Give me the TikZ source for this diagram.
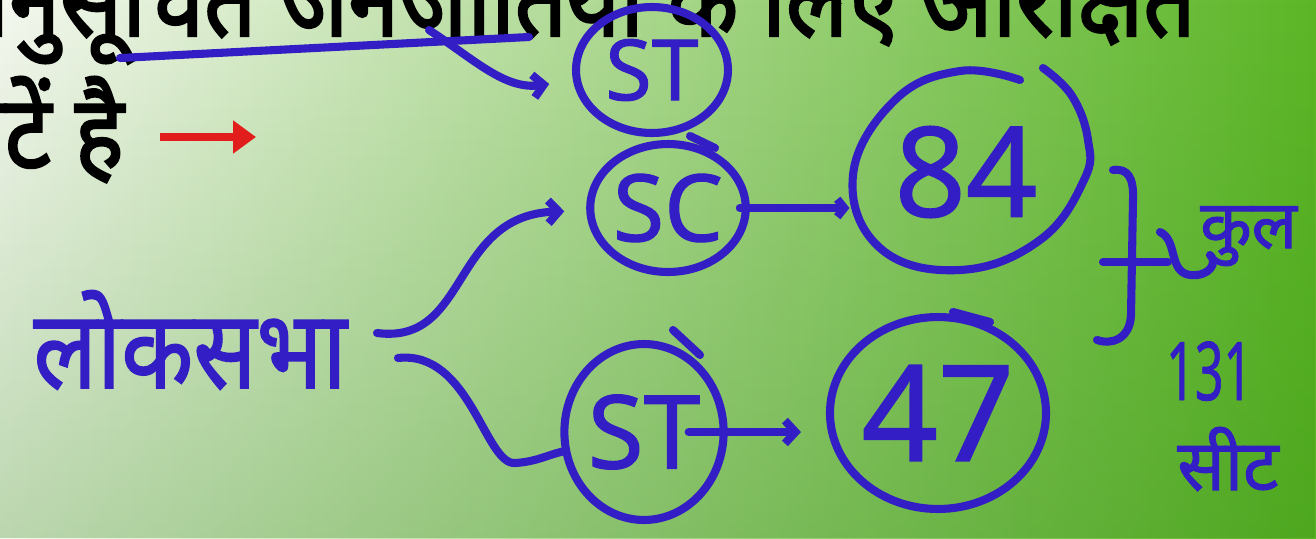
\documentclass[tikz,border=0pt]{standalone}
\usepackage{fontspec}
\setmainfont{Noto Sans}
\newfontfamily\hindi[Script=Devanagari, FakeBold=2.4]{Noto Sans}
\newfontfamily\hindipen[Script=Devanagari, FakeBold=1.6]{Noto Sans}
\newfontfamily\penfont[FakeBold=1.2]{Noto Sans}
\usetikzlibrary{arrows.meta, shapes.geometric, positioning, fadings}

\definecolor{penblue}{RGB}{50,30,196}
\definecolor{slidered}{RGB}{226,30,28}
\definecolor{bgleft}{RGB}{245,248,240}
\definecolor{bgmid}{RGB}{198,228,158}
\definecolor{bgright}{RGB}{92,182,38}
\definecolor{bgdark}{RGB}{40,130,10}

\tikzfading[name=fade up, top color=transparent!100, bottom color=transparent!72]

\begin{document}
\begin{tikzpicture}[x=0.02cm, y=-0.02cm,
  pen/.style = {draw=penblue, line width=4.6pt, line cap=round, line join=round},
  ring/.style = {ellipse, draw=penblue, line width=4.6pt, inner sep=0pt, text=penblue},
  hand/.style = {text=penblue, inner sep=0pt},
  barb/.style = {-{Straight Barb[length=6pt, width=13pt]}},
  printed/.style = {font=\hindi\fontsize{58}{58}\selectfont, inner sep=0pt, xscale=0.9, transform shape},
]
\useasboundingbox (0,0) rectangle (1316,538);
% background of the slide
\shade[left color=bgleft, middle color=bgmid, right color=bgright] (0,0) rectangle (1316,538);
\fill[bgdark, path fading=fade up] (0,0) rectangle (1316,538);

% printed slide text
\node[printed, anchor=base east] (line1) at (1196,36) {अनुसूचित जनजातियों के लिए आरक्षित};
\node[printed, anchor=base east] (line2) at (124,168) {सीटें है};
\coordinate (ra) at (160,137);
\coordinate (rb) at (256,137);
\draw[slidered, line width=4.2pt, -{Triangle[length=13pt, width=18pt]}] (ra) -- (rb);

% handwritten circles
\node[ring, minimum width=3.04cm, minimum height=2.52cm, font=\penfont\fontsize{48}{48}\selectfont] (st1) at (652,70) {ST};
\node[ring, minimum width=2.66cm, minimum height=2.56cm, font=\penfont\fontsize{53}{53}\selectfont] (sc) at (668,208) {SC};
\node[ring, minimum width=3.18cm, minimum height=3.52cm, font=\penfont\fontsize{58}{58}\selectfont] (st2) at (644,432) {ST};
\node[ring, draw=none, minimum width=4.5cm, minimum height=3.8cm, font=\penfont\fontsize{71}{71}\selectfont] (n84) at (966,172) {84};
\node[ring, minimum width=3.62cm, minimum height=3.84cm, font=\penfont\fontsize{76}{76}\selectfont] (n47) at (938,413) {47};
% hand-drawn ring of 84, open at the top right
\draw[pen] plot[smooth, tension=0.7] coordinates {(1020,80) (960,71) (895,100) (853,175) (880,248)
  (960,270) (1040,240) (1084,180) (1088,140) (1072,96) (1043,68)};
% pen overshoots
\draw[pen] (690,136) -- (715,148);
\draw[pen] (673,330) -- (700,355);
\draw[pen] (953,312) -- (990,322);

% handwritten words
\node[hand, anchor=base east, xscale=0.86, transform shape, font=\hindipen\fontsize{62}{62}\selectfont] (lok) at (347,388) {लोकसभा};
\node[hand, anchor=base west, font=\hindipen\fontsize{38}{38}\selectfont] (kul) at (1200,248) {कुल};
\node[hand, anchor=base west, xscale=0.62, transform shape, font=\penfont\fontsize{46}{46}\selectfont] (total) at (1166,400) {131};
\node[hand, anchor=base west, font=\hindipen\fontsize{40}{40}\selectfont] (seat) at (1177,490) {सीट};

% connectors
\coordinate (ta) at (120,58);
\coordinate (tb) at (529,37);
\coordinate (tc) at (429,30);
\draw[pen] (ta) -- (tb);
\draw[pen, barb, shorten >=0.48cm] (tc) .. controls (475,60) and (505,90) .. (st1);
\draw[pen, barb, shorten >=0.44cm] ([shift={(30,-55)}]lok.base east) .. controls (470,345) and (450,215) .. (sc);
\draw[pen] ([shift={(51,-30)}]lok.base east) .. controls (470,350) and (485,465) .. (515,463)
  .. controls (535,462) and (548,455) .. (st2);
\draw[pen, -{Straight Barb[length=4pt, width=10pt]}, shorten <=-0.2cm] (sc.east) -- (sc.east -| n84.west);
\draw[pen, barb, shorten <=-0.78cm, shorten >=0.5cm] (st2.east) -- (st2.east -| n47.west);

% brace and total
\coordinate (bmid) at (1103,262);
\draw[pen] (1113,170) .. controls (1128,168) and (1134,178) .. (1133,200) -- (1131,315)
  .. controls (1130,340) and (1110,345) .. (1097,340);
\draw[pen] (bmid) -- (1168,262);
\draw[pen] (1160,232) .. controls (1178,240) and (1168,272) .. (1190,275)
  .. controls (1210,277) and (1218,262) .. (1210,255);
\end{tikzpicture}
\end{document}
